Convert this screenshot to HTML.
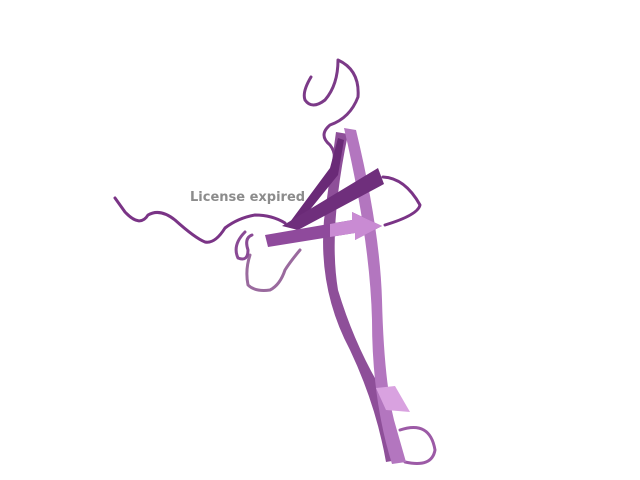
<!DOCTYPE html>
<html><head><meta charset="utf-8"><style>
html,body{margin:0;padding:0;background:#fff;width:640px;height:480px;overflow:hidden}
</style></head><body>
<svg width="640" height="480" viewBox="0 0 640 480" xmlns="http://www.w3.org/2000/svg">
<g fill="none" stroke-linecap="round" stroke-linejoin="round">
<path d="M300 250 Q290 262 285 270 Q280 285 270 290 Q255 292 248 285 Q245 270 250 255" stroke="#9a6a9e" stroke-width="3"/>
<path d="M400 430 Q430 420 435 450 Q432 468 405 462" stroke="#9c5aa6" stroke-width="3"/>
</g>
<path d="M336 132 L348 134 Q328 230 338 290 Q356 350 388 400 L398 460 L386 462 Q376 405 350 350 Q318 290 324 220 Z" fill="#8e4f99"/>
<path d="M344 128 L356 130 Q380 230 382 300 Q384 380 394 420 L406 462 L392 464 Q372 400 372 320 Q370 240 344 128 Z" fill="#b376bf"/>
<path d="M376 388 L395 386 L410 412 L386 410 Z" fill="#d9a2e0"/>
<g fill="none" stroke-linecap="round" stroke-linejoin="round">
<path d="M311 77 Q302 92 305 100 Q312 110 325 100 Q338 85 338 60 Q360 70 358 97 Q350 118 330 125 Q318 135 330 145 Q338 155 332 170" stroke="#7c3a88" stroke-width="3"/>
<path d="M115 198 L125 212 Q140 228 148 215 Q160 208 175 220 Q195 238 205 242 Q215 244 225 228 Q238 218 255 215 Q272 215 285 223" stroke="#7a3486" stroke-width="3"/>
<path d="M383 177 Q405 178 420 205 Q418 215 385 225" stroke="#7a3486" stroke-width="3"/>
<path d="M245 232 Q232 245 238 258 Q248 262 248 250 Q244 238 252 235" stroke="#8a4a95" stroke-width="3"/>
</g>
<path d="M290 222 L330 168 L338 138 L344 140 L338 175 L300 222 Z" fill="#6a2a77"/>
<path d="M282 226 L378 168 L384 184 L298 230 Z" fill="#6f2f7c"/>
<path d="M265 235 L352 220 L352 212 L382 226 L355 240 L355 233 L268 247 Z" fill="#8f4a9c"/>
<path d="M330 224 L352 220 L352 212 L382 226 L355 240 L355 233 L330 237 Z" fill="#c98bd3"/>
<text x="190" y="201" font-family="'DejaVu Sans','Liberation Sans',sans-serif" font-weight="bold" font-size="13" fill="#8c8c8c">License expired</text>
</svg>
</body></html>
